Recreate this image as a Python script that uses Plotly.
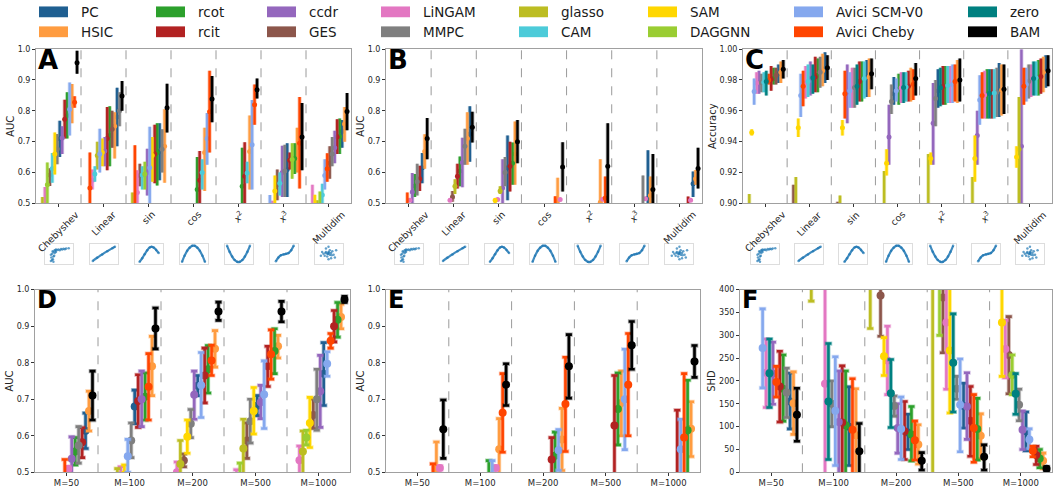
import plotly.graph_objects as go

W, H = 1053, 492

METHODS = ["PC", "HSIC", "rcot", "rcit", "ccdr", "GES", "LiNGAM", "MMPC",
           "glasso", "CAM", "SAM", "DAGGNN", "Avici SCM-V0", "Avici Cheby", "zero", "BAM"]
COLORS = ["#1f5f91", "#ff9c40", "#2ca02c", "#b22222", "#9467bd", "#8c564b", "#e377c2", "#7f7f7f",
          "#bcbd22", "#4ccbd9", "#ffd700", "#9acd32", "#85a8ee", "#ff4500", "#008080", "#000000"]

FUNC_LABELS = ["Chebyshev", "Linear", "sin", "cos", "<i>x</i><sup>2</sup>", "<i>x</i><sup>3</sup>", "Multidim"]
M_LABELS = ["M=50", "M=100", "M=200", "M=500", "M=1000"]

# (mean, low, high) per group; values outside the axis range are not visible in the figure
HA = (0.40, 0.38, 0.42)      # hidden (below AUC axis)
HC = (0.88, 0.87, 0.89)      # hidden (below accuracy axis)

A_DATA = {
    "PC":           [(0.709, 0.65, 0.768), (0.78, 0.685, 0.875), (0.668, 0.575, 0.76), HA, HA, (0.61, 0.52, 0.695), (0.733, 0.68, 0.77)],
    "HSIC":         [(0.822, 0.76, 0.887), (0.75, 0.645, 0.795), (0.685, 0.567, 0.805), (0.665, 0.54, 0.745), (0.668, 0.545, 0.785), (0.68, 0.60, 0.745), (0.757, 0.70, 0.812)],
    "rcot":         [(0.785, 0.71, 0.86), (0.72, 0.62, 0.815), (0.665, 0.558, 0.76), (0.545, 0.45, 0.65), (0.555, 0.45, 0.68), (0.645, 0.595, 0.695), (0.717, 0.66, 0.775)],
    "rcit":         [(0.773, 0.71, 0.836), (0.71, 0.607, 0.812), (0.66, 0.565, 0.755), (0.575, 0.45, 0.67), (0.588, 0.45, 0.698), (0.64, 0.61, 0.665), (0.715, 0.66, 0.773)],
    "ccdr":         [(0.712, 0.66, 0.75), (0.67, 0.62, 0.715), (0.60, 0.525, 0.677), HA, HA, (0.60, 0.52, 0.687), (0.68, 0.63, 0.735)],
    "GES":          [(0.592, 0.556, 0.614), (0.74, 0.68, 0.80), (0.59, 0.555, 0.628), HA, HA, (0.56, 0.51, 0.61), (0.63, 0.58, 0.685)],
    "LiNGAM":       [(0.49, 0.45, 0.553), (0.575, 0.545, 0.61), (0.535, 0.50, 0.607), HA, HA, (0.48, 0.45, 0.508), (0.46, 0.42, 0.56)],
    "MMPC":         [(0.676, 0.627, 0.725), (0.80, 0.75, 0.86), (0.675, 0.60, 0.74), HA, HA, (0.605, 0.52, 0.69), (0.66, 0.62, 0.715)],
    "glasso":       [(0.48, 0.45, 0.52), (0.655, 0.61, 0.70), (0.48, 0.45, 0.535), HA, HA, HA, (0.48, 0.45, 0.51)],
    "CAM":          [(0.613, 0.567, 0.663), (0.595, 0.57, 0.62), (0.592, 0.545, 0.62), (0.60, 0.545, 0.643), (0.598, 0.565, 0.635), (0.565, 0.525, 0.60), (0.527, 0.50, 0.563)],
    "SAM":          [(0.66, 0.593, 0.73), (0.665, 0.62, 0.71), (0.655, 0.57, 0.715), HA, HA, (0.54, 0.50, 0.59), (0.47, 0.43, 0.528)],
    "DAGGNN":       [(0.56, 0.49, 0.632), HA, (0.595, 0.545, 0.635), HA, HA, (0.642, 0.58, 0.695), (0.49, 0.45, 0.538)],
    "Avici SCM-V0": [(0.805, 0.72, 0.892), (0.66, 0.60, 0.742), (0.615, 0.44, 0.748), (0.71, 0.625, 0.793), (0.69, 0.545, 0.835), (0.47, 0.44, 0.527), (0.59, 0.545, 0.643)],
    "Avici Cheby":  [(0.828, 0.81, 0.847), (0.55, 0.45, 0.665), (0.49, 0.45, 0.688), (0.797, 0.665, 0.93), (0.82, 0.755, 0.885), (0.695, 0.548, 0.845), (0.612, 0.57, 0.662)],
    "zero":         [HA, HA, HA, HA, HA, HA, HA],
    "BAM":          [(0.956, 0.92, 0.995), (0.848, 0.80, 0.897), (0.81, 0.73, 0.888), (0.838, 0.763, 0.913), (0.868, 0.84, 0.905), (0.715, 0.607, 0.825), (0.798, 0.737, 0.858)],
}

B_DATA = {
    "PC":           [(0.615, 0.565, 0.663), (0.725, 0.635, 0.815), (0.615, 0.51, 0.72), HA, HA, (0.516, 0.45, 0.672), (0.563, 0.52, 0.603)],
    "HSIC":         [(0.668, 0.612, 0.724), (0.71, 0.625, 0.795), (0.66, 0.56, 0.765), (0.508, 0.45, 0.583), (0.503, 0.45, 0.643), (0.525, 0.50, 0.587), (0.58, 0.56, 0.608)],
    "rcot":         [(0.556, 0.52, 0.595), (0.605, 0.555, 0.652), (0.63, 0.56, 0.697), HA, HA, HA, HA],
    "rcit":         [(0.58, 0.54, 0.622), (0.588, 0.548, 0.628), (0.62, 0.538, 0.70), HA, HA, HA, (0.49, 0.45, 0.522)],
    "ccdr":         [(0.537, 0.45, 0.598), (0.632, 0.552, 0.713), (0.55, 0.45, 0.643), HA, HA, HA, HA],
    "GES":          [HA, (0.52, 0.505, 0.54), HA, HA, HA, HA, HA],
    "LiNGAM":       [(0.51, 0.505, 0.515), (0.51, 0.505, 0.515), (0.512, 0.507, 0.517), (0.512, 0.507, 0.517), (0.513, 0.508, 0.518), (0.515, 0.51, 0.52), (0.51, 0.505, 0.515)],
    "MMPC":         [(0.57, 0.525, 0.628), (0.685, 0.625, 0.742), (0.60, 0.555, 0.65), HA, HA, (0.49, 0.45, 0.59), HA],
    "glasso":       [HA, (0.555, 0.53, 0.578), (0.54, 0.53, 0.555), HA, HA, HA, HA],
    "CAM":          [HA, HA, HA, HA, HA, HA, HA],
    "SAM":          [HA, HA, (0.51, 0.50, 0.515), HA, HA, HA, HA],
    "DAGGNN":       [HA, HA, HA, HA, HA, HA, HA],
    "Avici SCM-V0": [HA, HA, HA, HA, HA, HA, HA],
    "Avici Cheby":  [(0.49, 0.45, 0.535), HA, HA, (0.49, 0.45, 0.523), (0.517, 0.45, 0.587), HA, HA],
    "zero":         [HA, HA, HA, HA, HA, HA, HA],
    "BAM":          [(0.71, 0.643, 0.777), (0.747, 0.697, 0.797), (0.70, 0.63, 0.77), (0.618, 0.538, 0.698), (0.62, 0.50, 0.76), (0.545, 0.45, 0.66), (0.613, 0.548, 0.68)],
}

C_DATA = {
    "PC":           [(0.984, 0.978, 0.990), (0.9875, 0.978, 0.998), (0.9815, 0.969, 0.993), (0.971, 0.964, 0.982), (0.973, 0.962, 0.987), (0.973, 0.956, 0.991), (0.9852, 0.975, 0.996)],
    "HSIC":         [(0.985, 0.978, 0.992), (0.986, 0.976, 0.997), (0.982, 0.969, 0.994), (0.977, 0.966, 0.988), (0.9792, 0.965, 0.993), (0.9735, 0.957, 0.99), (0.985, 0.972, 0.995)],
    "rcot":         [(0.981, 0.977, 0.988), (0.983, 0.972, 0.994), (0.98, 0.966, 0.992), (0.974, 0.964, 0.984), (0.9762, 0.964, 0.989), (0.971, 0.955, 0.987), (0.982, 0.97, 0.993)],
    "rcit":         [(0.9805, 0.973, 0.989), (0.982, 0.972, 0.995), (0.979, 0.966, 0.992), (0.976, 0.966, 0.986), (0.976, 0.964, 0.989), (0.9714, 0.955, 0.987), (0.9822, 0.971, 0.994)],
    "ccdr":         [(0.9782, 0.971, 0.986), (0.981, 0.97, 0.992), (0.972, 0.952, 0.99), (0.943, 0.925, 0.964), (0.952, 0.925, 0.978), (0.944, 0.925, 0.96), (0.937, 0.88, 1.00)],
    "GES":          [(0.983, 0.977, 0.988), (0.89, 0.87, 0.912), (0.885, 0.87, 0.901), HC, HC, HC, HC],
    "LiNGAM":       [(0.978, 0.971, 0.985), (0.978, 0.968, 0.989), (0.975, 0.962, 0.988), (0.975, 0.965, 0.985), (0.977, 0.965, 0.989), (0.9702, 0.955, 0.986), (0.98, 0.969, 0.99)],
    "MMPC":         [(0.9784, 0.972, 0.984), (0.985, 0.975, 0.995), (0.9752, 0.962, 0.988), (0.966, 0.958, 0.977), (0.968, 0.95, 0.98), (0.972, 0.956, 0.988), (0.979, 0.968, 0.99)],
    "glasso":       [(0.89, 0.87, 0.906), (0.895, 0.87, 0.917), (0.895, 0.88, 0.905), (0.89, 0.87, 0.921), (0.89, 0.87, 0.932), (0.89, 0.87, 0.917), (0.935, 0.88, 0.969)],
    "CAM":          [(0.9786, 0.972, 0.985), (0.979, 0.969, 0.99), (0.981, 0.968, 0.992), (0.9755, 0.966, 0.985), (0.9765, 0.965, 0.989), (0.9716, 0.955, 0.987), (0.9815, 0.97, 0.992)],
    "SAM":          [(0.946, 0.944, 0.948), (0.949, 0.943, 0.955), (0.949, 0.944, 0.954), (0.926, 0.918, 0.935), (0.929, 0.925, 0.933), (0.929, 0.914, 0.944), (0.93, 0.923, 0.937)],
    "DAGGNN":       [HC, HC, HC, HC, HC, HC, HC],
    "Avici SCM-V0": [(0.9725, 0.964, 0.981), (0.970, 0.956, 0.984), (0.973, 0.962, 0.985), (0.973, 0.966, 0.981), (0.9772, 0.965, 0.99), (0.967, 0.951, 0.983), (0.977, 0.966, 0.988)],
    "Avici Cheby":  [(0.980, 0.977, 0.984), (0.976, 0.963, 0.986), (0.971, 0.955, 0.986), (0.9772, 0.967, 0.987), (0.979, 0.966, 0.99), (0.970, 0.955, 0.985), (0.976, 0.964, 0.988)],
    "zero":         [(0.979, 0.97, 0.986), (0.9815, 0.971, 0.99), (0.976, 0.964, 0.99), (0.9752, 0.965, 0.985), (0.975, 0.963, 0.988), (0.9712, 0.955, 0.987), (0.981, 0.97, 0.992)],
    "BAM":          [(0.987, 0.981, 0.993), (0.988, 0.98, 0.996), (0.984, 0.974, 0.994), (0.981, 0.97, 0.991), (0.98, 0.966, 0.994), (0.974, 0.958, 0.99), (0.986, 0.976, 0.996)],
}

D_DATA = {
    "PC":           [(0.614, 0.565, 0.662), (0.68, 0.633, 0.725), (0.737, 0.71, 0.765), (0.682, 0.655, 0.71), (0.77, 0.683, 0.855)],
    "HSIC":         [(0.668, 0.613, 0.722), (0.79, 0.71, 0.872), (0.838, 0.788, 0.888), (0.845, 0.813, 0.875), (0.925, 0.893, 0.96)],
    "rcot":         [(0.557, 0.52, 0.595), (0.707, 0.643, 0.772), (0.782, 0.717, 0.847), (0.832, 0.77, 0.893), (0.918, 0.87, 0.965)],
    "rcit":         [(0.582, 0.54, 0.622), (0.695, 0.623, 0.767), (0.765, 0.69, 0.84), (0.79, 0.735, 0.845), (0.90, 0.857, 0.943)],
    "ccdr":         [(0.537, 0.49, 0.597), (0.70, 0.625, 0.777), (0.712, 0.645, 0.777), (0.692, 0.647, 0.738), (0.722, 0.623, 0.82)],
    "GES":          [HA, HA, (0.532, 0.515, 0.55), (0.587, 0.538, 0.635), (0.657, 0.62, 0.70)],
    "LiNGAM":       [(0.51, 0.505, 0.515), (0.492, 0.45, 0.515), (0.50, 0.48, 0.528), (0.48, 0.45, 0.507), (0.533, 0.49, 0.572)],
    "MMPC":         [(0.573, 0.525, 0.625), (0.587, 0.54, 0.635), (0.633, 0.595, 0.672), (0.64, 0.58, 0.70), (0.70, 0.615, 0.782)],
    "glasso":       [HA, (0.49, 0.45, 0.51), (0.523, 0.48, 0.587), (0.565, 0.48, 0.645), (0.557, 0.49, 0.613)],
    "CAM":          [HA, HA, HA, HA, HA],
    "SAM":          [HA, (0.494, 0.45, 0.52), (0.597, 0.552, 0.643), (0.668, 0.605, 0.732), (0.635, 0.568, 0.705)],
    "DAGGNN":       [HA, HA, HA, (0.49, 0.45, 0.525), (0.595, 0.575, 0.615)],
    "Avici SCM-V0": [HA, (0.544, 0.50, 0.59), (0.738, 0.65, 0.828), (0.713, 0.62, 0.805), (0.797, 0.763, 0.83)],
    "Avici Cheby":  [(0.49, 0.45, 0.535), (0.734, 0.643, 0.825), (0.806, 0.765, 0.848), (0.823, 0.755, 0.89), (0.86, 0.84, 0.88)],
    "zero":         [HA, HA, HA, HA, HA],
    "BAM":          [(0.71, 0.643, 0.777), (0.894, 0.838, 0.95), (0.94, 0.916, 0.966), (0.94, 0.912, 0.968), (0.973, 0.965, 0.982)],
}

E_DATA = {
    "PC":           [HA, HA, HA, HA, HA],
    "HSIC":         [(0.51, 0.48, 0.583), (0.563, 0.48, 0.647), (0.59, 0.505, 0.675), (0.69, 0.60, 0.777), (0.619, 0.543, 0.693)],
    "rcot":         [HA, (0.49, 0.45, 0.532), (0.545, 0.48, 0.61), (0.673, 0.575, 0.772), (0.615, 0.48, 0.752)],
    "rcit":         [HA, HA, (0.535, 0.48, 0.595), (0.628, 0.48, 0.765), (0.49, 0.45, 0.67)],
    "ccdr":         [HA, HA, HA, HA, HA],
    "GES":          [HA, HA, HA, HA, HA],
    "LiNGAM":       [(0.512, 0.507, 0.517), (0.512, 0.507, 0.517), HA, HA, HA],
    "MMPC":         [HA, HA, HA, HA, HA],
    "glasso":       [HA, HA, HA, HA, HA],
    "CAM":          [HA, HA, HA, HA, HA],
    "SAM":          [HA, HA, HA, HA, HA],
    "DAGGNN":       [HA, HA, HA, HA, HA],
    "Avici SCM-V0": [HA, (0.492, 0.45, 0.532), (0.56, 0.505, 0.617), (0.70, 0.562, 0.837), (0.563, 0.48, 0.645)],
    "Avici Cheby":  [(0.49, 0.45, 0.523), (0.663, 0.555, 0.77), (0.687, 0.557, 0.815), (0.74, 0.60, 0.88), (0.595, 0.48, 0.77)],
    "zero":         [HA, HA, HA, HA, HA],
    "BAM":          [(0.618, 0.538, 0.698), (0.74, 0.683, 0.797), (0.79, 0.703, 0.877), (0.848, 0.782, 0.913), (0.803, 0.76, 0.847)],
}

F_DATA = {
    "PC":           [(155, 95, 217), (100, 15, 187), (87, 50, 127), (145, 97, 195), (90, 47, 132)],
    "HSIC":         [(151, 83, 220), (81, -10, 183), (61, 18, 104), (80, 30, 128), (25, 8, 42)],
    "rcot":         [(183, 112, 257), (103, -10, 222), (83, 25, 144), (95, 27, 162), (30, 10, 50)],
    "rcit":         [(188, 110, 265), (109, -10, 233), (90, 28, 155), (113, 35, 188), (38, 17, 57)],
    "ccdr":         [(216, 149, 285), (110, -10, 222), (97, 42, 150), (144, 72, 218), (93, 50, 134)],
    "GES":          [(460, 440, 480), (460, 440, 480), (387, 298, 480), (383, 262, 500), (257, 172, 341)],
    "LiNGAM":       [(218, 142, 292), (194, -10, 430), (245, 170, 320), (328, 182, 480), (270, 207, 333)],
    "MMPC":         [(175, 120, 228), (150, 100, 200), (145, 123, 167), (183, 160, 210), (148, 113, 182)],
    "glasso":       [(480, 440, 520), (500, 375, 600), (520, 315, 700), (420, -10, 700), (600, 450, 750)],
    "CAM":          [(440, 420, 460), (600, 500, 700), (460, 430, 490), (415, 405, 430), (500, 450, 550)],
    "SAM":          [(450, 430, 470), (450, 430, 470), (254, 212, 295), (267, 130, 480), (328, 210, 480)],
    "DAGGNN":       [(430, 410, 450), (440, 420, 460), (450, 420, 480), (410, 300, 520), (213, 170, 257)],
    "Avici SCM-V0": [(272, 185, 358), (135, 15, 253), (95, 28, 165), (148, 45, 248), (72, 52, 95)],
    "Avici Cheby":  [(198, 165, 232), (93, -10, 205), (70, 27, 112), (97, 22, 170), (47, 34, 57)],
    "zero":         [(217, 142, 292), (155, 28, 282), (173, 98, 247), (240, 132, 347), (172, 127, 216)],
    "BAM":          [(126, 68, 184), (46, -10, 107), (25, 5, 43), (34, 5, 60), (8, 4, 12)],
}

# Thumbnail sketches of each function family (normalised coordinates)
THUMBS = [
    dict(x=[0.2, 0.22, 0.25, 0.28, 0.3, 0.33, 0.35, 0.4, 0.45, 0.5, 0.6, 0.7, 0.8, 0.9, 0.25, 0.3, 0.2, 0.35, 0.3, 0.4, 0.55, 0.65, 0.75, 0.27, 0.38],
         y=[0.1, 0.3, 0.5, 0.2, 0.6, 0.4, 0.7, 0.75, 0.72, 0.75, 0.77, 0.78, 0.8, 0.82, 0.15, 0.05, 0.45, 0.55, 0.35, 0.6, 0.7, 0.74, 0.76, 0.65, 0.68], line=False),
    dict(x=[0.08, 0.25, 0.45, 0.65, 0.85, 0.95], y=[0.1, 0.28, 0.47, 0.65, 0.82, 0.9], line=True),
    dict(x=[0.15, 0.25, 0.35, 0.45, 0.55, 0.62, 0.7, 0.8, 0.9], y=[0.05, 0.25, 0.48, 0.7, 0.86, 0.9, 0.86, 0.72, 0.55], line=True),
    dict(x=[0.05, 0.15, 0.25, 0.35, 0.45, 0.55, 0.65, 0.75, 0.85, 0.95], y=[0.05, 0.4, 0.67, 0.85, 0.95, 0.95, 0.85, 0.67, 0.4, 0.05], line=True),
    dict(x=[0.05, 0.15, 0.25, 0.35, 0.45, 0.55, 0.65, 0.75, 0.85, 0.95], y=[0.95, 0.62, 0.35, 0.15, 0.05, 0.05, 0.15, 0.35, 0.62, 0.95], line=True),
    dict(x=[0.2, 0.3, 0.4, 0.5, 0.6, 0.7, 0.8, 0.9], y=[0.08, 0.3, 0.42, 0.47, 0.5, 0.55, 0.7, 0.95], line=True),
    dict(x=[0.3, 0.4, 0.5, 0.6, 0.7, 0.45, 0.55, 0.35, 0.65, 0.5, 0.25, 0.75, 0.4, 0.6, 0.5, 0.2, 0.8, 0.45, 0.55, 0.5, 0.38, 0.62, 0.52, 0.48],
         y=[0.5, 0.6, 0.5, 0.55, 0.45, 0.35, 0.7, 0.4, 0.65, 0.2, 0.6, 0.3, 0.8, 0.25, 0.9, 0.4, 0.7, 0.5, 0.45, 0.6, 0.55, 0.42, 0.58, 0.52], line=False),
]

FONT = "DejaVu Sans"
SLOT = 0.055

PANELS = [
    dict(letter="A", data=A_DATA, labels=FUNC_LABELS, box=(36, 46, 351, 203), yr=(0.5, 1.0), dtick=0.1, fmt=".1f", title="AUC", desc=False, top=True),
    dict(letter="B", data=B_DATA, labels=FUNC_LABELS, box=(386, 46, 702, 203), yr=(0.5, 1.0), dtick=0.1, fmt=".1f", title="AUC", desc=False, top=True),
    dict(letter="C", data=C_DATA, labels=FUNC_LABELS, box=(743, 46, 1052, 203), yr=(0.9, 1.0), dtick=0.02, fmt=".2f", title="Accuracy", desc=False, top=True),
    dict(letter="D", data=D_DATA, labels=M_LABELS, box=(35, 291, 350, 477), yr=(0.5, 1.0), dtick=0.1, fmt=".1f", title="AUC", desc=False, top=False),
    dict(letter="E", data=E_DATA, labels=M_LABELS, box=(386, 291, 700, 477), yr=(0.5, 1.0), dtick=0.1, fmt=".1f", title="AUC", desc=False, top=False),
    dict(letter="F", data=F_DATA, labels=M_LABELS, box=(740, 291, 1052, 477), yr=(0, 400), dtick=50, fmt="d", title="SHD", desc=True, top=False),
]


def rgba(hexcol, a):
    h = hexcol.lstrip("#")
    return "rgba(%d,%d,%d,%.2f)" % (int(h[0:2], 16), int(h[2:4], 16), int(h[4:6], 16), a)


fig = go.Figure()
layout = {}
shapes = []
annotations = []

for i, p in enumerate(PANELS):
    sfx = "" if i == 0 else str(i + 1)
    xa, ya = "x" + sfx, "y" + sfx
    data, labels = p["data"], p["labels"]
    n = len(labels)
    xs = {m: [] for m in METHODS}
    for g in range(n):
        order = sorted(range(len(METHODS)), key=lambda k: data[METHODS[k]][g][0], reverse=p["desc"])
        for r, k in enumerate(order):
            xs[METHODS[k]].append(g + 0.5 + (r - 7.5) * SLOT)
    top = p["top"]
    thick = 2.4 if top else 2.6
    cap = 0 if top else 3
    for k, m in enumerate(METHODS):
        vals = data[m]
        ys = [v[0] for v in vals]
        plus = [v[2] - v[0] for v in vals]
        minus = [v[0] - v[1] for v in vals]
        # light halo behind each bar
        fig.add_trace(go.Scatter(
            x=xs[m], y=ys, mode="markers", marker=dict(size=1, opacity=0),
            error_y=dict(type="data", symmetric=False, array=plus, arrayminus=minus,
                         color=rgba(COLORS[k], 0.35), thickness=thick + 1.6, width=cap + 0.8 if cap else 0),
            xaxis=xa, yaxis=ya, showlegend=False, hoverinfo="skip", cliponaxis=True))
        fig.add_trace(go.Scatter(
            x=xs[m], y=ys, mode="markers",
            marker=dict(color=COLORS[k], size=5 if top else 8, line=dict(width=0)),
            error_y=dict(type="data", symmetric=False, array=plus, arrayminus=minus,
                         color=COLORS[k], thickness=thick, width=cap),
            xaxis=xa, yaxis=ya, showlegend=False, hoverinfo="skip", cliponaxis=True))
    x0, y0, x1, y1 = p["box"]
    layout["xaxis" + sfx] = dict(
        domain=[x0 / W, x1 / W], range=[0, n], anchor=ya,
        tickvals=[g + 0.5 for g in range(n)], ticktext=labels,
        showticklabels=not top,
        ticks="outside", ticklen=3, tickcolor="#333",
        tickfont=dict(family=FONT, size=8.5, color="#262626"),
        showline=True, mirror=True, linecolor="#a0a0a0", linewidth=1,
        showgrid=False, zeroline=False, fixedrange=True)
    layout["yaxis" + sfx] = dict(
        domain=[1 - y1 / H, 1 - y0 / H], range=list(p["yr"]), anchor=xa,
        tick0=p["yr"][0], dtick=p["dtick"], tickformat=p["fmt"],
        ticks="outside", ticklen=3, tickcolor="#333",
        tickfont=dict(family=FONT, size=8, color="#262626"),
        title=dict(text=p["title"], standoff=1, font=dict(family=FONT, size=10, color="#262626")),
        showline=True, mirror=True, linecolor="#a0a0a0", linewidth=1,
        showgrid=False, zeroline=False, fixedrange=True)
    for g in range(1, n):
        shapes.append(dict(type="line", xref=xa, yref=ya + " domain", x0=g, x1=g, y0=0, y1=1,
                           line=dict(color="#9a9a9a", width=1, dash="dash"), layer="below"))
    annotations.append(dict(text="<b>%s</b>" % p["letter"], xref="paper", yref="paper",
                            x=x0 / W, y=1 - (y0 - 6) / H, xanchor="left", yanchor="top",
                            showarrow=False, font=dict(family=FONT, size=26 if top else 24, color="black")))
    if top:
        for g, lab in enumerate(labels):
            annotations.append(dict(text=lab, xref=xa, yref="paper", x=g + 0.5, y=1 - 206 / H,
                                    xanchor="center", yanchor="top", textangle=-45, showarrow=False,
                                    font=dict(family=FONT, size=9.5, color="#262626")))

# thumbnails under the top row
ax_id = len(PANELS)
for i, p in enumerate(PANELS[:3]):
    x0, y0, x1, y1 = p["box"]
    gw = (x1 - x0) / 7
    for g, th in enumerate(THUMBS):
        ax_id += 1
        sfx = str(ax_id)
        cx = x0 + (g + 0.5) * gw
        layout["xaxis" + sfx] = dict(domain=[(cx - 14) / W, (cx + 14) / W], range=[-0.05, 1.05], anchor="y" + sfx,
                                     showticklabels=False, ticks="", showgrid=False, zeroline=False,
                                     showline=True, mirror=True, linecolor="#dddddd", linewidth=1, fixedrange=True)
        layout["yaxis" + sfx] = dict(domain=[1 - 265 / H, 1 - 244 / H], range=[-0.08, 1.08], anchor="x" + sfx,
                                     showticklabels=False, ticks="", showgrid=False, zeroline=False,
                                     showline=True, mirror=True, linecolor="#dddddd", linewidth=1, fixedrange=True)
        fig.add_trace(go.Scatter(x=th["x"], y=th["y"], mode="lines+markers" if th["line"] else "markers",
                                 line=dict(color="rgba(31,119,180,0.85)", width=2.2, shape="spline"),
                                 marker=dict(color="rgba(31,119,180,0.7)", size=2.5),
                                 xaxis="x" + sfx, yaxis="y" + sfx, showlegend=False, hoverinfo="skip"))

# legend (two rows, eight columns)
LEG_COL_X = [39, 156, 267, 381, 519, 648, 794, 968]
LEG_ROW_Y = [8, 28.3]
for k, m in enumerate(METHODS):
    col, row = k // 2, k % 2
    lx, ly = LEG_COL_X[col], LEG_ROW_Y[row]
    shapes.append(dict(type="rect", xref="paper", yref="paper",
                       x0=lx / W, x1=(lx + 29) / W, y0=1 - (ly + 5.5) / H, y1=1 - (ly - 5.5) / H,
                       fillcolor=COLORS[k], line=dict(width=0)))
    annotations.append(dict(text=m, xref="paper", yref="paper", x=(lx + 40) / W, y=1 - ly / H,
                            xanchor="left", yanchor="middle", showarrow=False,
                            font=dict(family=FONT, size=13.5, color="#1a1a1a")))

fig.update_layout(
    width=W, height=H, margin=dict(l=0, r=0, t=0, b=0),
    paper_bgcolor="white", plot_bgcolor="white",
    font=dict(family=FONT), showlegend=False,
    shapes=shapes, annotations=annotations, **layout)

fig.write_html("out.html", config={"displayModeBar": False},
               post_script="document.body.style.margin='0px';document.body.style.padding='0px';")
